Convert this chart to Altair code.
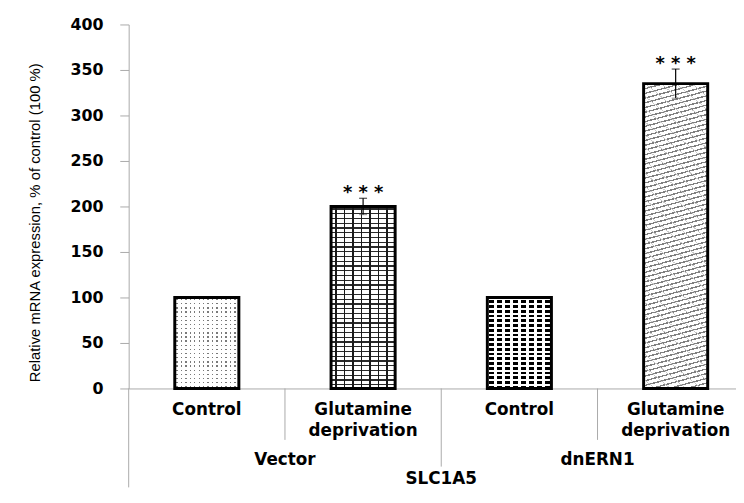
import math
import altair as alt
import pandas as pd

# ---------------- data ----------------
groups = ["Vector", "Vector", "dnERN1", "dnERN1"]
conditions = ["Control", "Glutamine deprivation", "Control", "Glutamine deprivation"]
values = [100, 200, 100, 335]
errors = [0, 9, 0, 16]
stars = ["", "* * *", "", "* * *"]
y_ticks = [0, 50, 100, 150, 200, 250, 300, 350, 400]
gene = "SLC1A5"
y_title = "Relative mRNA expression, % of control (100 %)"

# ---------------- layout ----------------
PLOT_H = 368
STEP = 158
PLOT_W = 614
Y_MAX = 400
BAR_FRAC = 0.41
BAR_W = BAR_FRAC * STEP
GRAY = "#aaaaaa"
BOLD_FONT = "DejaVu Sans"

n = len(values)
df = pd.DataFrame({
    "idx": list(range(n)),
    "group": groups,
    "cond": conditions,
    "value": values,
    "err": errors,
    "stars": stars,
})
df["xc"] = df["idx"] + 0.5
df["xl"] = df["xc"] - BAR_FRAC / 2
df["xr"] = df["xc"] + BAR_FRAC / 2
df["lo"] = df["value"] - df["err"]
df["hi"] = df["value"] + df["err"]

# group centres and separators derived from the categories
grp_rows = []
for g in dict.fromkeys(groups):
    ids = [i for i, gg in enumerate(groups) if gg == g]
    grp_rows.append({"group": g, "xc": (min(ids) + max(ids) + 1) / 2})
grp_df = pd.DataFrame(grp_rows)
gene_df = pd.DataFrame({"gene": [gene], "xc": [n / 2]})
sep_short = pd.DataFrame({"x": [i for i in range(1, n) if groups[i] == groups[i - 1]]})
sep_long = pd.DataFrame({"x": [i for i in range(1, n) if groups[i] != groups[i - 1]]})

xscale = alt.Scale(domain=[0, PLOT_W / STEP], nice=False, zero=False)
yscale = alt.Scale(domain=[0, Y_MAX], nice=False)

# ---------------- pattern helpers (gradients used as hatching) ----------------
CLEAR = "rgba(255,255,255,0)"


def stripe_stops(length, period, on, on_c, off_c, phase=0.0):
    stops = []

    def add(o, c):
        stops.append({"offset": round(min(max(o, 0.0), 1.0), 5), "color": c})

    add(0, off_c)
    pos = phase
    while pos < length:
        a = pos / length
        b = min((pos + on) / length, 1.0)
        add(a, off_c)
        add(a, on_c)
        add(b, on_c)
        add(b, off_c)
        pos += period
    add(1, off_c)
    return stops


def lin(x1, y1, x2, y2, stops):
    return {"gradient": "linear", "x1": x1, "y1": y1, "x2": x2, "y2": y2, "stops": stops}


def vstripes(period, on, on_c, off_c, phase=0.0):
    return lin(0, 0, 1, 0, stripe_stops(BAR_W, period, on, on_c, off_c, phase))


def hstripes(h, period, on, on_c, off_c, phase=0.0):
    return lin(0, 0, 0, 1, stripe_stops(h, period, on, on_c, off_c, phase))


def diag(angle, W, H, period, on, on_c, off_c):
    th = math.radians(angle)
    nx, ny = math.sin(th), math.cos(th)
    L = abs(nx) * W + ny * H
    k = L / (nx * nx * W * W + ny * ny * H * H)
    dx, dy = k * nx * W, k * ny * H
    x1 = 0 if nx >= 0 else 1
    return lin(x1, 0, x1 + dx, dy, stripe_stops(L, period, on, on_c, off_c))


heights = [v * PLOT_H / Y_MAX for v in values]

patterns = [
    # dotted
    [vstripes(4.5, 1.4, "#7a7a7a", "white", 1.5),
     hstripes(heights[0], 4.2, 1.4, CLEAR, "white", 1.5)],
    # grid
    [hstripes(heights[1], 4.8, 1.2, "#2a2a2a", "white", 2.0),
     vstripes(8.6, 1.6, "#1a1a1a", CLEAR, 4.0)],
    # beads / diamonds
    [vstripes(8.1, 5.0, "black", "white", 2.0),
     hstripes(heights[2], 4.8, 2.0, "white", CLEAR, 1.0)],
    # zig-zag hatch
    [diag(15, BAR_W, heights[3], 4.6, 1.4, "#808080", "white"),
     diag(-40, BAR_W, heights[3], 10.0, 0.8, "#c8c8c8", CLEAR)],
]

base = alt.Chart(df)
enc_bar = dict(
    x=alt.X("xl:Q", scale=xscale,
            axis=alt.Axis(labels=False, ticks=False, grid=False, title=None,
                          domainColor=GRAY, domainWidth=1)),
    x2="xr:Q",
    y=alt.Y("value:Q", scale=yscale,
            axis=alt.Axis(values=y_ticks, grid=False, title=y_title,
                          labelFont=BOLD_FONT, labelFontWeight="bold", labelFontSize=16,
                          labelColor="black", labelPadding=17,
                          tickColor=GRAY, tickSize=9, domainColor=GRAY,
                          titleFont="Liberation Sans", titleFontWeight="normal",
                          titleFontSize=15, titleColor="black",
                          titleX=-95, titleY=200, titleAngle=270,
                          titleAlign="center", titleBaseline="middle")),
    y2=alt.datum(0),
)

layers = []
for i, pats in enumerate(patterns):
    for p in pats:
        layers.append(
            base.transform_filter(alt.datum.idx == i)
            .mark_rect(fill=p, strokeWidth=0)
            .encode(**enc_bar)
        )

outline = base.mark_rect(fill="white", fillOpacity=0, stroke="black", strokeWidth=3).encode(
    x=alt.X("xl:Q", scale=xscale), x2="xr:Q",
    y=alt.Y("value:Q", scale=yscale), y2=alt.datum(0))

errdf = base.transform_filter(alt.datum.err > 0)
err_rule = errdf.mark_rule(color="black", strokeWidth=1.2).encode(
    x=alt.X("xc:Q", scale=xscale), y=alt.Y("lo:Q", scale=yscale), y2="hi:Q")
err_cap_hi = errdf.mark_tick(color="black", orient="horizontal", size=8, thickness=1.2).encode(
    x=alt.X("xc:Q", scale=xscale), y=alt.Y("hi:Q", scale=yscale))
err_cap_lo = errdf.mark_tick(color="#555555", orient="horizontal", size=8, thickness=1.0).encode(
    x=alt.X("xc:Q", scale=xscale), y=alt.Y("lo:Q", scale=yscale))
star_txt = errdf.mark_text(font=BOLD_FONT, fontWeight="bold", fontSize=18, color="black",
                           baseline="alphabetic", align="center", dy=0).encode(
    x=alt.X("xc:Q", scale=xscale), y=alt.Y("hi:Q", scale=yscale), text="stars:N")

# category separators and left extension of the axis
rule_short = alt.Chart(sep_short).mark_rule(color=GRAY, strokeWidth=1).encode(
    x=alt.X("x:Q", scale=xscale), y=alt.value(PLOT_H), y2=alt.value(PLOT_H + 52))
rule_long = alt.Chart(sep_long).mark_rule(color=GRAY, strokeWidth=1).encode(
    x=alt.X("x:Q", scale=xscale), y=alt.value(PLOT_H), y2=alt.value(PLOT_H + 79))
left_ext = alt.Chart(gene_df).mark_rule(color=GRAY, strokeWidth=1).encode(
    x=alt.value(0), y=alt.value(PLOT_H), y2=alt.value(PLOT_H + 100))

cond_txt = base.mark_text(font=BOLD_FONT, fontWeight="bold", fontSize=17, color="black",
                          baseline="top", align="center", lineBreak=" ", lineHeight=21).encode(
    x=alt.X("xc:Q", scale=xscale), y=alt.value(PLOT_H + 14), text="cond:N")
grp_txt = alt.Chart(grp_df).mark_text(font=BOLD_FONT, fontWeight="bold", fontSize=17, color="black",
                                      baseline="top", align="center").encode(
    x=alt.X("xc:Q", scale=xscale), y=alt.value(PLOT_H + 64), text="group:N")
gene_txt = alt.Chart(gene_df).mark_text(font=BOLD_FONT, fontWeight="bold", fontSize=17, color="black",
                                        baseline="top", align="center").encode(
    x=alt.X("xc:Q", scale=xscale), y=alt.value(PLOT_H + 84), text="gene:N")

chart = alt.layer(
    *layers, outline, err_rule, err_cap_hi, err_cap_lo, star_txt,
    rule_short, rule_long, left_ext, cond_txt, grp_txt, gene_txt
).properties(
    width=PLOT_W, height=PLOT_H,
    autosize=alt.AutoSizeParams(type="none"),
    padding={"left": 122, "top": 14, "right": 0, "bottom": 100},
    background="white",
).configure_view(stroke=None)

chart.save("out.html", embed_options={"renderer": "svg", "actions": False})
